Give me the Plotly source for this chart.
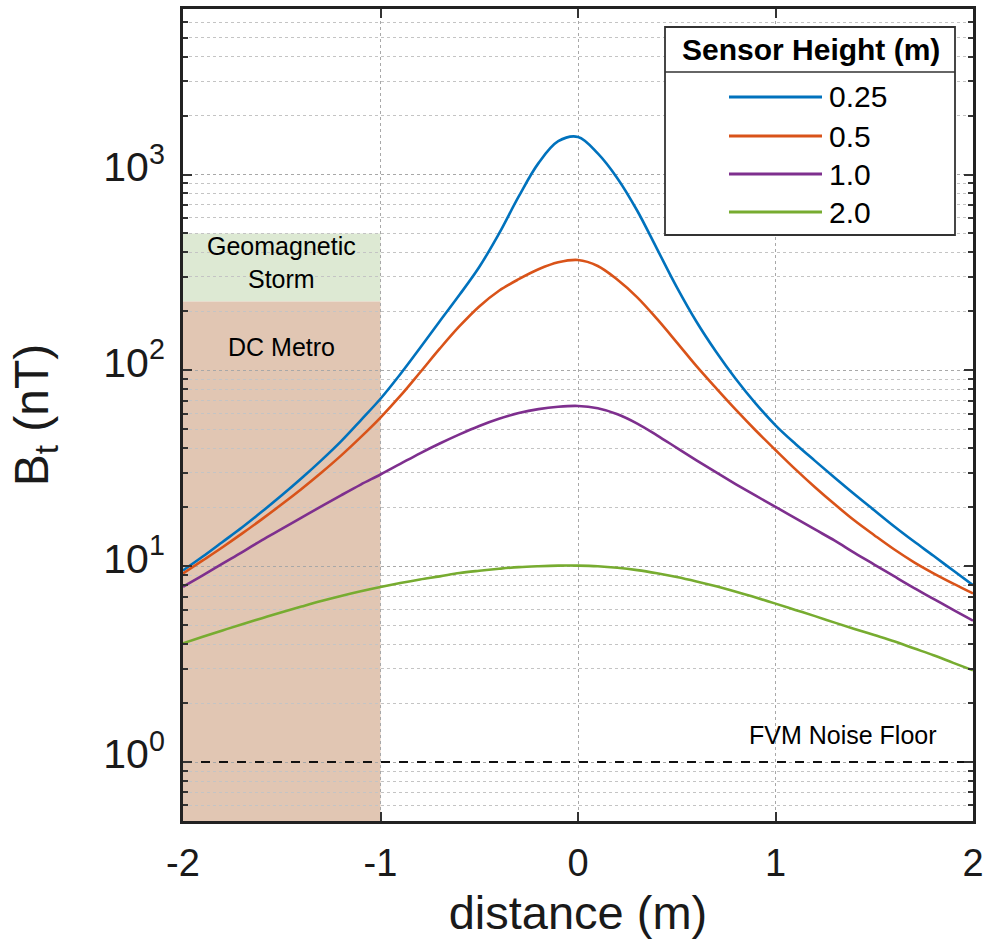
import numpy as np
import plotly.graph_objects as go

# ---------------- data ----------------
distance = [-2.0, -1.9, -1.8, -1.7, -1.6, -1.5, -1.4, -1.3, -1.2, -1.1,
            -1.0, -0.9, -0.8, -0.7, -0.6, -0.5, -0.4, -0.3, -0.2, -0.1,
            0.0, 0.1, 0.2, 0.3, 0.4, 0.5, 0.6, 0.7, 0.8, 0.9,
            1.0, 1.1, 1.2, 1.3, 1.4, 1.5, 1.6, 1.7, 1.8, 1.9, 2.0]
bt_025 = [9.51, 11.2, 13.3, 15.8, 19.0, 23.0, 28.1, 34.7, 43.4, 55.6,
          71.6, 95.5, 130, 178, 243, 337, 499, 773, 1143, 1479,
          1556, 1282, 955, 653, 417, 266, 177, 124, 90, 67.6,
          52.4, 42.2, 34.5, 28.3, 23.3, 19.3, 16.0, 13.4, 11.3, 9.5, 8.0]
bt_05 = [9.18, 10.7, 12.5, 14.7, 17.4, 20.7, 24.8, 30.0, 36.7, 45.6,
         57.4, 74.0, 97.5, 129, 168, 212, 255, 292, 328, 356,
         366, 341, 290, 236, 183, 139, 105, 80.9, 62.8, 49.3,
         39.2, 31.3, 25.3, 20.7, 17.1, 14.4, 12.2, 10.5, 9.2, 8.15, 7.26]
bt_10 = [7.85, 8.97, 10.3, 11.8, 13.6, 15.5, 17.7, 20.2, 23.0, 26.1,
         29.4, 33.3, 37.7, 42.3, 47.1, 52.0, 56.6, 60.5, 63.4, 65.2,
         65.8, 64.0, 59.7, 53.5, 46.6, 40.2, 34.7, 30.1, 26.2, 22.9,
         20.1, 17.6, 15.4, 13.5, 11.7, 10.2, 8.89, 7.76, 6.81, 5.98, 5.27]
bt_20 = [4.04, 4.36, 4.70, 5.06, 5.43, 5.82, 6.22, 6.64, 7.05, 7.45,
         7.83, 8.20, 8.55, 8.87, 9.23, 9.48, 9.70, 9.89, 10.0, 10.07,
         10.07, 10.0, 9.82, 9.55, 9.20, 8.81, 8.36, 7.89, 7.40, 6.92,
         6.44, 5.98, 5.56, 5.15, 4.78, 4.45, 4.14, 3.81, 3.51, 3.21, 2.94]

series_names = ["0.25", "0.5", "1.0", "2.0"]
series_values = [bt_025, bt_05, bt_10, bt_20]
series_colors = ["#0072BD", "#D95319", "#7E2F8E", "#77AC30"]

x_ticks = [-2, -1, 0, 1, 2]
y_ticks = [1, 10, 100, 1000]
y_ticktext = ["10<sup>0</sup>", "10<sup>1</sup>", "10<sup>2</sup>", "10<sup>3</sup>"]

# shaded bands: x extent, y extent
storm_x = [-2, -1]
storm_y = [225, 500]
metro_x = [-2, -1]
metro_y = [0.5, 225]
noise_floor = 1.0
y_range = [0.5, 7000]
x_range = [-2, 2]

FONT = "Liberation Sans, Arial, sans-serif"
TXT = "#1a1a1a"

# plot-area pixel geometry (for the hand-made legend box)
PL, PR, PT, PB = 183, 973, 9, 821
def px(xp):
    return (xp - PL) / (PR - PL)
def py(yp):
    return (PB - yp) / (PB - PT)

fig = go.Figure()

for name, vals, col in zip(series_names, series_values, series_colors):
    fig.add_trace(go.Scatter(x=distance, y=vals, mode="lines", name=name,
                             line=dict(color=col, width=2.6, shape="spline",
                                       smoothing=1.0, simplify=False),
                             showlegend=False))

fig.add_trace(go.Scatter(x=x_range, y=[noise_floor, noise_floor], mode="lines",
                         line=dict(color="#111111", width=2, dash="dash"),
                         showlegend=False, hoverinfo="skip"))

shapes = [
    dict(type="rect", xref="x", yref="y", x0=storm_x[0], x1=storm_x[1],
         y0=storm_y[0], y1=storm_y[1], fillcolor="#DDE9D3", line=dict(width=0), layer="below"),
    dict(type="rect", xref="x", yref="y", x0=metro_x[0], x1=metro_x[1],
         y0=metro_y[0], y1=metro_y[1], fillcolor="#E1C6B3", line=dict(width=0), layer="below"),
]

# legend box (manual, MATLAB style)
shapes.append(dict(type="rect", xref="paper", yref="paper", x0=px(665), x1=px(955),
                   y0=py(235), y1=py(27), fillcolor="white",
                   line=dict(color="#333333", width=1.8), layer="above"))
shapes.append(dict(type="line", xref="paper", yref="paper", x0=px(665), x1=px(955),
                   y0=py(72), y1=py(72), line=dict(color="#333333", width=1.3), layer="above"))
annotations = [
    dict(xref="paper", yref="paper", x=px(811), y=py(50), text="<b>Sensor Height (m)</b>",
         showarrow=False, font=dict(family=FONT, size=30, color="black"),
         xanchor="center", yanchor="middle"),
]
row_y = [97, 136, 174, 212]
for name, col, ry in zip(series_names, series_colors, row_y):
    shapes.append(dict(type="line", xref="paper", yref="paper", x0=px(729), x1=px(822),
                       y0=py(ry), y1=py(ry), line=dict(color=col, width=3), layer="above"))
    annotations.append(dict(xref="paper", yref="paper", x=px(827), y=py(ry), text=name,
                            showarrow=False, font=dict(family=FONT, size=30, color="black"),
                            xanchor="left", yanchor="middle"))

annotations += [
    dict(xref="x", yref="y", x=-1.5, y=np.log10(357), text="Geomagnetic<br>Storm",
         showarrow=False, font=dict(family=FONT, size=25, color="black"), align="center"),
    dict(xref="x", yref="y", x=-1.5, y=np.log10(131), text="DC Metro",
         showarrow=False, font=dict(family=FONT, size=25, color="black")),
    dict(xref="x", yref="y", x=1.34, y=np.log10(1.37), text="FVM Noise Floor",
         showarrow=False, font=dict(family=FONT, size=25, color="black")),
]

minor_vals = [k * 10.0 ** e for e in range(-1, 4) for k in range(2, 10)
              if y_range[0] <= k * 10.0 ** e <= y_range[1]]

fig.update_layout(
    width=985, height=946, autosize=False,
    margin=dict(l=PL, r=985 - PR, t=PT, b=946 - PB, autoexpand=False),
    paper_bgcolor="white", plot_bgcolor="white",
    font=dict(family=FONT, color=TXT),
    shapes=shapes, annotations=annotations,
    showlegend=False,
    xaxis=dict(
        range=x_range, tickvals=x_ticks, ticktext=[str(v) for v in x_ticks],
        ticks="inside", ticklen=9, tickwidth=1.5, tickcolor="#333",
        showline=True, linewidth=2.8, linecolor="#222", mirror="ticks",
        showgrid=True, gridcolor="#a8a8a8", griddash="dot", gridwidth=1,
        zeroline=False, tickfont=dict(size=38, color=TXT), automargin=False,
        ticklabelstandoff=6,
        title=dict(text="distance (m)", font=dict(size=47, color=TXT), standoff=14),
    ),
    yaxis=dict(
        type="log", range=[np.log10(y_range[0]), np.log10(y_range[1])],
        tickvals=y_ticks, ticktext=y_ticktext,
        ticks="inside", ticklen=9, tickwidth=1.5, tickcolor="#333",
        showline=True, linewidth=2.8, linecolor="#222", mirror="ticks",
        showgrid=True, gridcolor="#a8a8a8", griddash="dot", gridwidth=1,
        zeroline=False, tickfont=dict(size=41, color=TXT), automargin=False,
        ticklabelstandoff=7, ticklabelshift=-8,
        minor=dict(tickvals=minor_vals, ticks="inside", ticklen=5, tickcolor="#333",
                   showgrid=True, gridcolor="#c4c4c4", griddash="dot", gridwidth=1),
        title=dict(text="B<sub>t</sub> (nT)", font=dict(size=48, color=TXT), standoff=40),
    ),
)

fig.write_html("out.html", config={"responsive": False})
